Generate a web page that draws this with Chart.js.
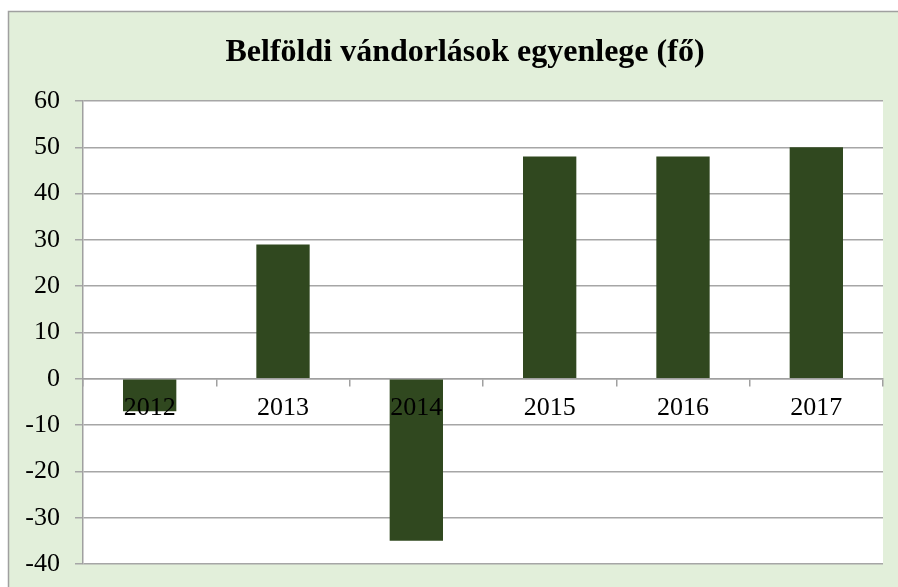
<!DOCTYPE html>
<html>
<head>
<meta charset="utf-8">
<script src="https://cdn.jsdelivr.net/npm/chart.js@4.4.1/dist/chart.umd.min.js"></script>
<style>
  html, body { margin: 0; padding: 0; background: #fff; }
  #wrap { width: 898px; height: 587px; position: relative; }
</style>
</head>
<body>
<div id="wrap"><canvas id="chart" width="898" height="587"></canvas></div>
<script>
// data
const years = ["2012", "2013", "2014", "2015", "2016", "2017"];
const balance = [-7, 29, -35, 48, 48, 50];
const yMin = -40;
const yMax = 60;
const yStep = 10;

const titleText = "Belföldi vándorlások egyenlege (fő)";
const serif = "'Liberation Serif', 'Times New Roman', serif";

// light green frame + white plot area, like the spreadsheet chart
const backdrop = {
  id: "backdrop",
  beforeDraw(chart) {
    const { ctx, chartArea, width, height } = chart;
    ctx.save();
    ctx.fillStyle = "#ffffff";
    ctx.fillRect(0, 0, width, height);
    ctx.fillStyle = "#E2EFDA";
    ctx.fillRect(8, 11, width, height);
    ctx.strokeStyle = "#A0A0A0";
    ctx.lineWidth = 1.5;
    ctx.beginPath();
    ctx.moveTo(8.5, height + 2);
    ctx.lineTo(8.5, 11.5);
    ctx.lineTo(width + 2, 11.5);
    ctx.stroke();
    ctx.fillStyle = "#ffffff";
    ctx.fillRect(chartArea.left, chartArea.top, chartArea.right - chartArea.left, chartArea.bottom - chartArea.top);
    ctx.restore();
  }
};

// title is centred on the frame, not on the canvas, so draw it here
const frameTitle = {
  id: "frameTitle",
  afterDraw(chart) {
    const { ctx } = chart;
    ctx.save();
    ctx.fillStyle = "#000";
    ctx.font = "bold 32px " + serif;
    ctx.textAlign = "center";
    ctx.textBaseline = "middle";
    ctx.fillText(titleText, 465, 53);
    ctx.restore();
  }
};

const chart = new Chart(document.getElementById("chart"), {
  type: "bar",
  data: {
    labels: years,
    datasets: [
      {
        label: "Belföldi vándorlások egyenlege",
        data: balance,
        backgroundColor: "#30481F",
        borderWidth: 0,
        barPercentage: 0.4,
        categoryPercentage: 1.0,
      },
    ],
  },
  options: {
    responsive: false,
    animation: false,
    layout: {
      padding: { top: 101, left: 20, right: 15, bottom: 23 },
    },
    plugins: {
      legend: { display: false },
      tooltip: { enabled: false },
      title: { display: false },
    },
    scales: {
      x: {
        position: { y: 0 },
        offset: true,
        afterFit(scale) {
          scale.paddingTop = 0;
          scale.paddingBottom = 0;
        },
        grid: {
          offset: true,
          drawOnChartArea: false,
          drawTicks: true,
          tickLength: 7,
          color: "#A0A0A0",
          lineWidth: 1.5,
        },
        border: { display: true, color: "#A0A0A0", width: 1.5 },
        ticks: {
          z: 1,
          color: "#000",
          padding: 7,
          font: { family: serif, size: 26 },
          maxRotation: 0,
          autoSkip: false,
        },
      },
      y: {
        min: yMin,
        max: yMax,
        afterFit(scale) {
          scale.width = 63;
          scale.paddingTop = 0;
          scale.paddingBottom = 0;
        },
        grid: {
          color: "#A6A6A6",
          lineWidth: 1.5,
          drawTicks: true,
          tickLength: 8,
        },
        border: { display: true, color: "#A0A0A0", width: 1.5 },
        ticks: {
          stepSize: yStep,
          color: "#000",
          padding: 15,
          font: { family: serif, size: 26 },
        },
      },
    },
  },
  plugins: [backdrop, frameTitle],
});
</script>
</body>
</html>
